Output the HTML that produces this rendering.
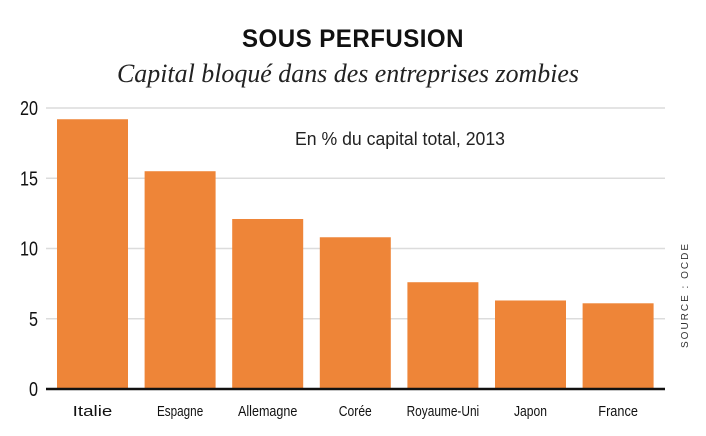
<!DOCTYPE html>
<html><head><meta charset="utf-8">
<style>
body{margin:0;background:#fff;width:706px;height:436px;overflow:hidden}
svg{display:block}
</style></head>
<body>
<svg width="706" height="436" xmlns="http://www.w3.org/2000/svg">
<text x="353" y="47" text-anchor="middle" font-family="Liberation Sans, sans-serif" font-weight="bold" font-size="25" letter-spacing="0.5" textLength="222" lengthAdjust="spacingAndGlyphs" fill="#111">SOUS PERFUSION</text>
<text x="348" y="82" text-anchor="middle" font-family="Liberation Serif, serif" font-style="italic" font-size="26" textLength="462" lengthAdjust="spacingAndGlyphs" fill="#222">Capital bloqué dans des entreprises zombies</text>
<text x="400" y="145" text-anchor="middle" font-family="Liberation Sans, sans-serif" font-size="18" textLength="210" lengthAdjust="spacingAndGlyphs" fill="#222">En % du capital total, 2013</text>
<text transform="translate(688,295) rotate(-90)" text-anchor="middle" font-family="Liberation Sans, sans-serif" font-size="10" letter-spacing="2" fill="#333">SOURCE : OCDE</text>
<g id="grid"></g>
<g id="bars"></g>
<g id="xlabels"></g>
<line x1="46" x2="665" y1="389" y2="389" stroke="#111" stroke-width="2.5"/>
</svg>
<script>
const categories=["Italie","Espagne","Allemagne","Corée","Royaume-Uni","Japon","France"];
const values=[19.2,15.5,12.1,10.8,7.6,6.3,6.1];
const yTicks=[0,5,10,15,20];
const NS="http://www.w3.org/2000/svg";
const y0=389, y20=108;
function y(v){return y0-(y0-y20)*v/20;}
function x(i){return 57+i*87.6;}
const bw=71;
const grid=document.getElementById('grid');
yTicks.forEach(t=>{
  if(t>0){
    const l=document.createElementNS(NS,'line');
    
    
    l.setAttribute('x1',46);l.setAttribute('x2',665);
    l.setAttribute('y1',y(t));l.setAttribute('y2',y(t));
    l.setAttribute('stroke','#dcdcdc');l.setAttribute('stroke-width','1.5');
    grid.appendChild(l);
  }
  const tx=document.createElementNS(NS,'text');
  
  
  tx.setAttribute('x',38);tx.setAttribute('y',y(t)+7);
  tx.setAttribute('text-anchor','end');
  tx.setAttribute('font-family','Liberation Sans, sans-serif');
  tx.setAttribute('font-size','20');tx.setAttribute('fill','#111');
  tx.setAttribute('textLength',String(t).length*9);
  tx.setAttribute('lengthAdjust','spacingAndGlyphs');
  tx.textContent=t;grid.appendChild(tx);
});
const bars=document.getElementById('bars'),xl=document.getElementById('xlabels');
values.forEach((v,i)=>{
  const r=document.createElementNS(NS,'rect');
  
  
  r.setAttribute('x',x(i));r.setAttribute('width',bw);
  r.setAttribute('y',y(v));r.setAttribute('height',y0-y(v));
  r.setAttribute('fill','#ee8538');
  bars.appendChild(r);
  const t=document.createElementNS(NS,'text');
  
  
  t.setAttribute('x',x(i)+bw/2);t.setAttribute('y',416);
  t.setAttribute('text-anchor','middle');
  t.setAttribute('font-family','Liberation Sans, sans-serif');
  t.setAttribute('font-size','15');t.setAttribute('fill','#111');
  t.setAttribute('textLength',categories[i].length*6.6);
  t.setAttribute('lengthAdjust','spacingAndGlyphs');
  t.textContent=categories[i];xl.appendChild(t);
});
</script>
</body></html>
